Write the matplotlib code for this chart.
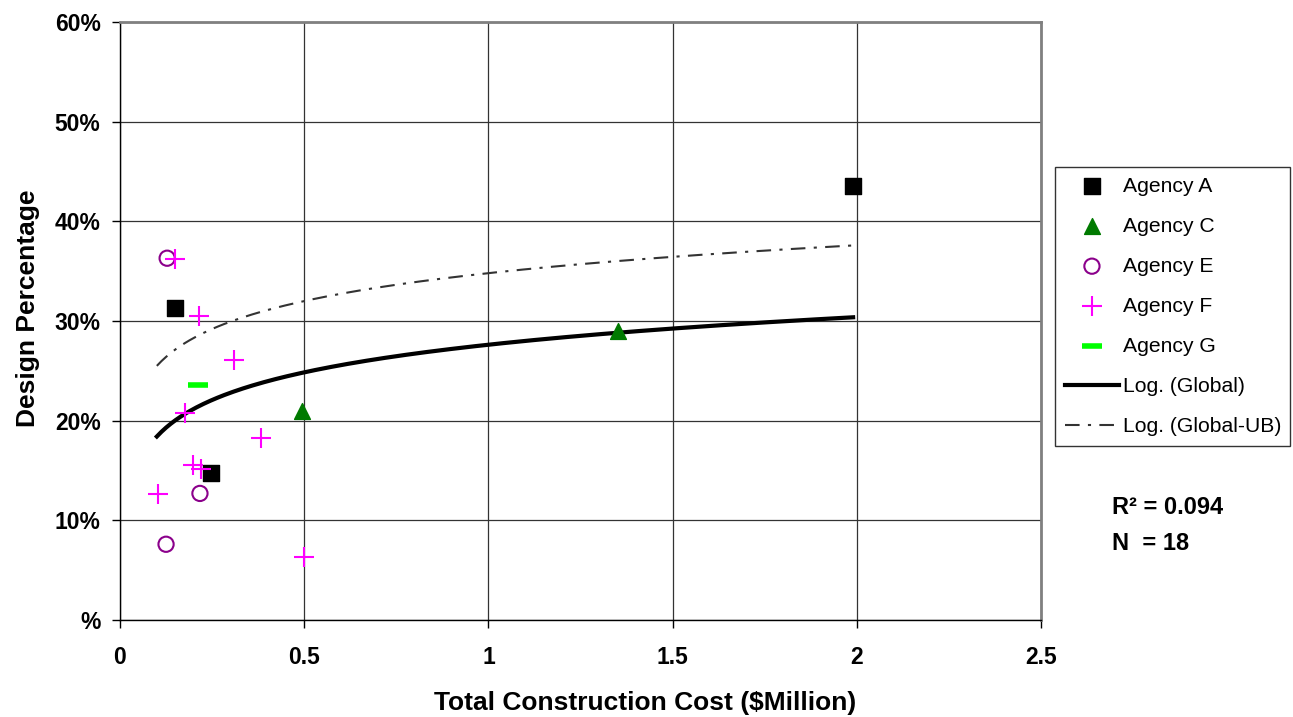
import numpy as np
import matplotlib
matplotlib.use("Agg")
import matplotlib.pyplot as plt
from matplotlib.ticker import FuncFormatter

plt.rcParams['font.family'] = ['Liberation Sans', 'DejaVu Sans']

# Data (x in $Million, y in %)
a_x = [0.149, 0.247, 1.99]
a_y = [31.3, 14.7, 43.5]
c_x = [0.494, 1.352]
c_y = [21.0, 29.0]
e_x = [0.128, 0.217, 0.125]
e_y = [36.3, 12.7, 7.6]
f_x = [0.149, 0.214, 0.309, 0.176, 0.383, 0.198, 0.220, 0.103, 0.500]
f_y = [36.2, 30.5, 26.1, 20.8, 18.3, 15.6, 15.2, 12.6, 6.3]
g_x = [0.212]
g_y = [23.6]

# Log fit coefficients: y = a + b*ln(x)
glob_a, glob_b = 27.62, 4.0
ub_a, ub_b = 34.8, 4.04
fit_xmin, fit_xmax = 0.1, 1.99

r2_text = "R² = 0.094"
n_text = "N  = 18"

W, H = 1293, 717
fig = plt.figure(figsize=(W/100, H/100), dpi=100)
ax = fig.add_axes([120/W, 1-620/H, (1041-120)/W, (620-22)/H])

xs = np.linspace(fit_xmin, fit_xmax, 300)
ax.scatter(a_x, a_y, marker='s', s=120, color='black', zorder=5, label='Agency A')
ax.scatter(c_x, c_y, marker='^', s=130, color='#007A00', zorder=5, label='Agency C')
ax.scatter(e_x, e_y, marker='o', s=120, facecolors='none', edgecolors='#8B008B', linewidths=1.5, zorder=5, label='Agency E')
ax.scatter(f_x, f_y, marker='+', s=190, color='#FF00FF', linewidths=1.5, zorder=5, label='Agency F')
ax.scatter(g_x, g_y, marker='_', s=200, color='#00FF00', linewidths=4, zorder=5, label='Agency G')
ax.plot(xs, glob_a + glob_b*np.log(xs), color='black', lw=3, zorder=4, label='Log. (Global)')
ax.plot(xs, ub_a + ub_b*np.log(xs), color='#333333', lw=1.5, dashes=(7, 4, 1.5, 4), zorder=4, label='Log. (Global-UB)')

ax.set_xlim(0, 2.5)
ax.set_ylim(0, 60)
ax.set_xticks([0, 0.5, 1, 1.5, 2, 2.5])
ax.set_xticklabels(['0', '0.5', '1', '1.5', '2', '2.5'])
ax.set_yticks(range(0, 61, 10))
ax.yaxis.set_major_formatter(FuncFormatter(lambda v, p: '%' if v == 0 else f'{int(v)}%'))
ax.grid(True, color='#333333', lw=0.9)
ax.set_axisbelow(True)
for s in ['top', 'right']:
    ax.spines[s].set_color('#808080')
    ax.spines[s].set_linewidth(2)
for s in ['left', 'bottom']:
    ax.spines[s].set_color('black')
    ax.spines[s].set_linewidth(1)
ax.tick_params(direction='out', length=6, width=1, labelsize=16.5)
ax.tick_params(axis='x', pad=13)
ax.tick_params(axis='y', pad=8)
for lbl in ax.get_xticklabels() + ax.get_yticklabels():
    lbl.set_fontweight('bold')

fig.text(645/W, 1-703/H, 'Total Construction Cost ($Million)', fontsize=19, fontweight='bold',
         ha='center', va='center')
fig.text(28/W, 1-308/H, 'Design Percentage', fontsize=19, fontweight='bold',
         ha='center', va='center', rotation=90)

leg = fig.legend(loc='upper left', bbox_to_anchor=(1055/W, 1-167/H), fontsize=15.2,
                 frameon=True, fancybox=False, edgecolor='black', labelspacing=1.0,
                 handlelength=2.6, borderpad=0.45, handletextpad=0.15, borderaxespad=0)
leg.get_frame().set_linewidth(1)

fig.text(1112/W, 1-507/H, r2_text, fontsize=17, fontweight='bold', va='center')
fig.text(1112/W, 1-543/H, n_text, fontsize=17, fontweight='bold', va='center')

fig.savefig('out.png', dpi=100)
